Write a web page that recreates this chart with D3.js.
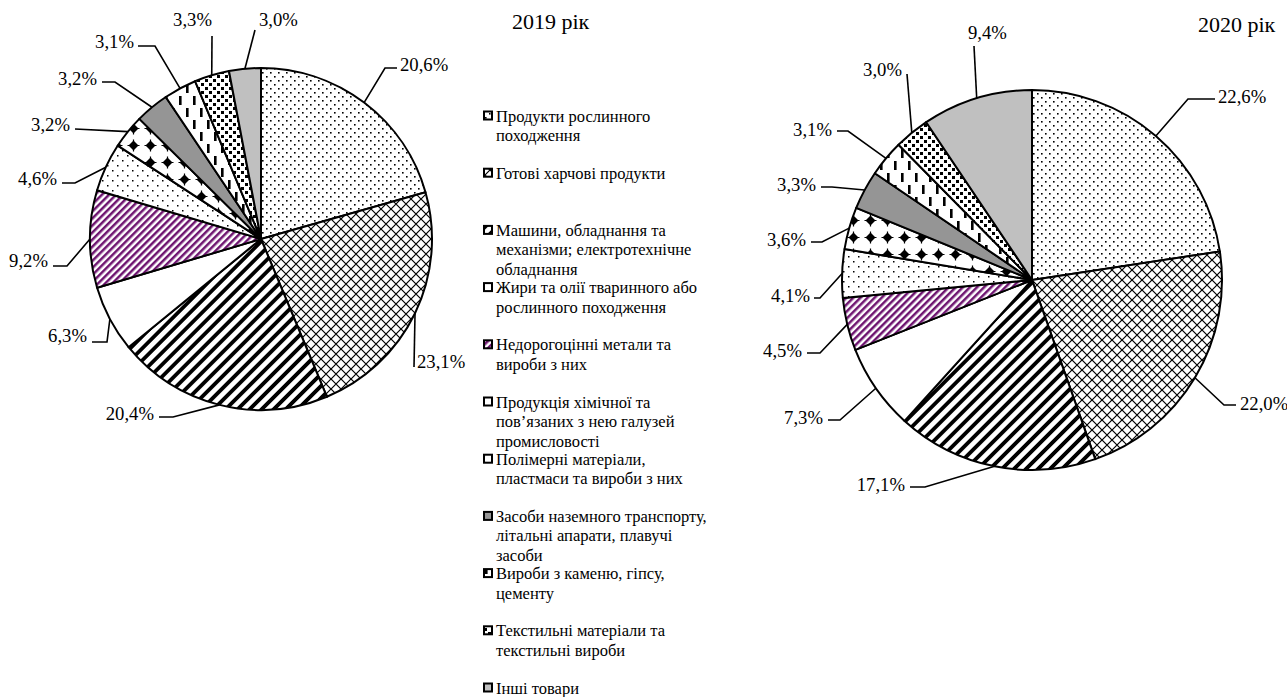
<!DOCTYPE html>
<html><head><meta charset="utf-8">
<script src="https://cdn.jsdelivr.net/npm/d3@7"></script>
<style>
body{margin:0;background:#fff}
svg{display:block}
</style>
</head><body>
<svg id="chart" width="1287" height="697" font-family="'Liberation Serif', 'Times New Roman', 'DejaVu Serif', serif"></svg>
<script>
// ---- data ----
const categories = [
  "Продукти рослинного\nпоходження",
  "Готові харчові продукти",
  "Машини, обладнання та\nмеханізми; електротехнічне\nобладнання",
  "Жири та олії тваринного або\nрослинного походження",
  "Недорогоцінні метали та\nвироби з них",
  "Продукція хімічної та\nпов’язаних з нею галузей\nпромисловості",
  "Полімерні матеріали,\nпластмаси та вироби з них",
  "Засоби наземного транспорту,\nлітальні апарати, плавучі\nзасоби",
  "Вироби з каменю, гіпсу,\nцементу",
  "Текстильні матеріали та\nтекстильні вироби",
  "Інші товари"
];
const values2019 = [20.6, 23.1, 20.4, 6.3, 9.2, 4.6, 3.2, 3.2, 3.1, 3.3, 3.0];
const values2020 = [22.6, 22.0, 17.1, 7.3, 4.5, 4.1, 3.6, 3.3, 3.1, 3.0, 9.4];
const years = ["2019 рік", "2020 рік"];

// ---- layout (not data) ----
const fills = ["url(#p1)","url(#p2)","url(#p3)","#ffffff","url(#p5)","url(#p6)","url(#p7)","#959595","url(#p9)","url(#p10)","#c0c0c0"];
const pies = [
  {cx:261, cy:239, r:171, values: values2019, title:{x:512, y:29},
   labels:[
    {x:400,y:71,a:"start",pts:[[397,68],[385,68]]},
    {x:417,y:368,a:"start",pts:[[414,367]]},
    {x:154,y:420,a:"end",pts:[[159,417],[173,417]]},
    {x:87,y:342,a:"end",pts:[[92,342],[107,342]]},
    {x:48,y:267,a:"end",pts:[[53,266],[67,266]]},
    {x:57,y:185,a:"end",pts:[[62,183],[75,183]]},
    {x:70,y:131,a:"end",pts:[[75,129]]},
    {x:97,y:85,a:"end",pts:[[102,82],[115,82]]},
    {x:134,y:48,a:"end",pts:[[138,46],[155,46]]},
    {x:212,y:26,a:"end",pts:[[212,36]]},
    {x:259,y:26,a:"start",pts:[[255,30]]}
   ]},
  {cx:1032, cy:280, r:190, values: values2020, title:{x:1198, y:32},
   labels:[
    {x:1218,y:103,a:"start",pts:[[1215,99],[1188,99]]},
    {x:1240,y:410,a:"start",pts:[[1236,405],[1224,405]]},
    {x:905,y:491,a:"end",pts:[[910,487],[925,487]]},
    {x:823,y:424,a:"end",pts:[[828,420],[840,420]]},
    {x:802,y:357,a:"end",pts:[[807,353],[820,353]]},
    {x:810,y:302,a:"end",pts:[[814,298],[820,298]]},
    {x:806,y:246,a:"end",pts:[[811,242],[822,242]]},
    {x:816,y:191,a:"end",pts:[[821,187],[832,187]]},
    {x:832,y:136,a:"end",pts:[[837,131],[848,131]]},
    {x:902,y:76,a:"end",pts:[[907,74]]},
    {x:968,y:39,a:"start",pts:[[974,46]]}
   ]}
];

const svg = d3.select("#chart");
const defs = svg.append("defs");

function pat(id, w, h, draw, transform){
  const p = defs.append("pattern").attr("id", id).attr("patternUnits","userSpaceOnUse")
    .attr("width", w).attr("height", h);
  if (transform) p.attr("patternTransform", transform);
  p.append("rect").attr("width", w).attr("height", h).attr("fill", "#fff");
  draw(p);
}
// dotted dense
pat("p1", 8, 8, p => {
  p.append("rect").attr("x",1).attr("y",1).attr("width",1.6).attr("height",1.6).attr("fill","#000");
  p.append("rect").attr("x",5).attr("y",5).attr("width",1.6).attr("height",1.6).attr("fill","#000");
});
// crosshatch diagonal
pat("p2", 10, 10, p => {
  p.append("path").attr("d","M0,0L10,10M10,0L0,10").attr("stroke","#000").attr("stroke-width",1.2);
});
// wide "/" stripes
pat("p3", 8.5, 8.5, p => {
  p.append("rect").attr("x",0).attr("y",0).attr("width",3.8).attr("height",8.5).attr("fill","#000");
}, "rotate(45)");
// purple "/" stripes
pat("p5", 5, 5, p => {
  p.append("rect").attr("x",0).attr("y",0).attr("width",2.5).attr("height",5).attr("fill","#6e1470");
}, "rotate(45)");
// sparse dots
pat("p6", 10, 10, p => {
  p.append("rect").attr("x",1).attr("y",1).attr("width",1.5).attr("height",1.5).attr("fill","#000");
  p.append("rect").attr("x",6).attr("y",6).attr("width",1.5).attr("height",1.5).attr("fill","#000");
});
// diamonds
pat("p7", 17, 17, p => {
  p.append("path").attr("d","M8.5,3.5L13.5,8.5L8.5,13.5L3.5,8.5Z").attr("fill","#000");
  p.append("path").attr("d","M8.5,2.5V14.5M2.5,8.5H14.5").attr("stroke","#000").attr("stroke-width",1.2);
});
// vertical dashes
pat("p9", 14, 24, p => {
  p.append("rect").attr("x",2).attr("y",1).attr("width",2.6).attr("height",9).attr("fill","#000");
  p.append("rect").attr("x",9).attr("y",13).attr("width",2.6).attr("height",9).attr("fill","#000");
});
// small squares
pat("p10", 8, 8, p => {
  p.append("rect").attr("x",0).attr("y",0).attr("width",3).attr("height",3).attr("fill","#000");
  p.append("rect").attr("x",4).attr("y",4).attr("width",3).attr("height",3).attr("fill","#000");
});

const pieGen = d3.pie().sort(null).value(d => d);
const fmt = v => v.toFixed(1).replace(".", ",") + "%";

pies.forEach((P, pi) => {
  const arcs = pieGen(P.values);
  const arc = d3.arc().innerRadius(0).outerRadius(P.r);
  const g = svg.append("g").attr("transform", `translate(${P.cx},${P.cy})`);
  g.selectAll("path.slice").data(arcs).join("path")
    .attr("class","slice")
    .attr("d", arc)
    .attr("fill", (d,i) => fills[i])
    .attr("stroke", "#000").attr("stroke-width", 2).attr("stroke-linejoin","round");

  arcs.forEach((d, i) => {
    const L = P.labels[i];
    const m = (d.startAngle + d.endAngle) / 2;
    const ax = P.cx + P.r * Math.sin(m), ay = P.cy - P.r * Math.cos(m);
    const pts = L.pts.concat([[ax, ay]]);
    svg.append("path").attr("d", d3.line()(pts))
      .attr("fill","none").attr("stroke","#000").attr("stroke-width",1.6);
    svg.append("text").attr("x", L.x).attr("y", L.y).attr("text-anchor", L.a)
      .attr("font-size", 18.7).attr("fill","#000").text(fmt(d.data));
  });

  svg.append("text").attr("x", P.title.x).attr("y", P.title.y)
    .attr("font-size", 22).attr("fill","#000").text(years[pi]);
});

// legend
const lg = svg.append("g");
categories.forEach((c, i) => {
  const y0 = 116 + i * 57.2;
  lg.append("rect").attr("x", 484).attr("y", y0 - 4.5).attr("width", 8).attr("height", 8)
    .attr("fill", fills[i]).attr("stroke", "#000").attr("stroke-width", 2);
  c.split("\n").forEach((line, j) => {
    lg.append("text").attr("x", 496).attr("y", y0 + 5.5 + j * 19.5)
      .attr("font-size", 16.5).attr("fill","#000").text(line);
  });
});
</script>
</body></html>
